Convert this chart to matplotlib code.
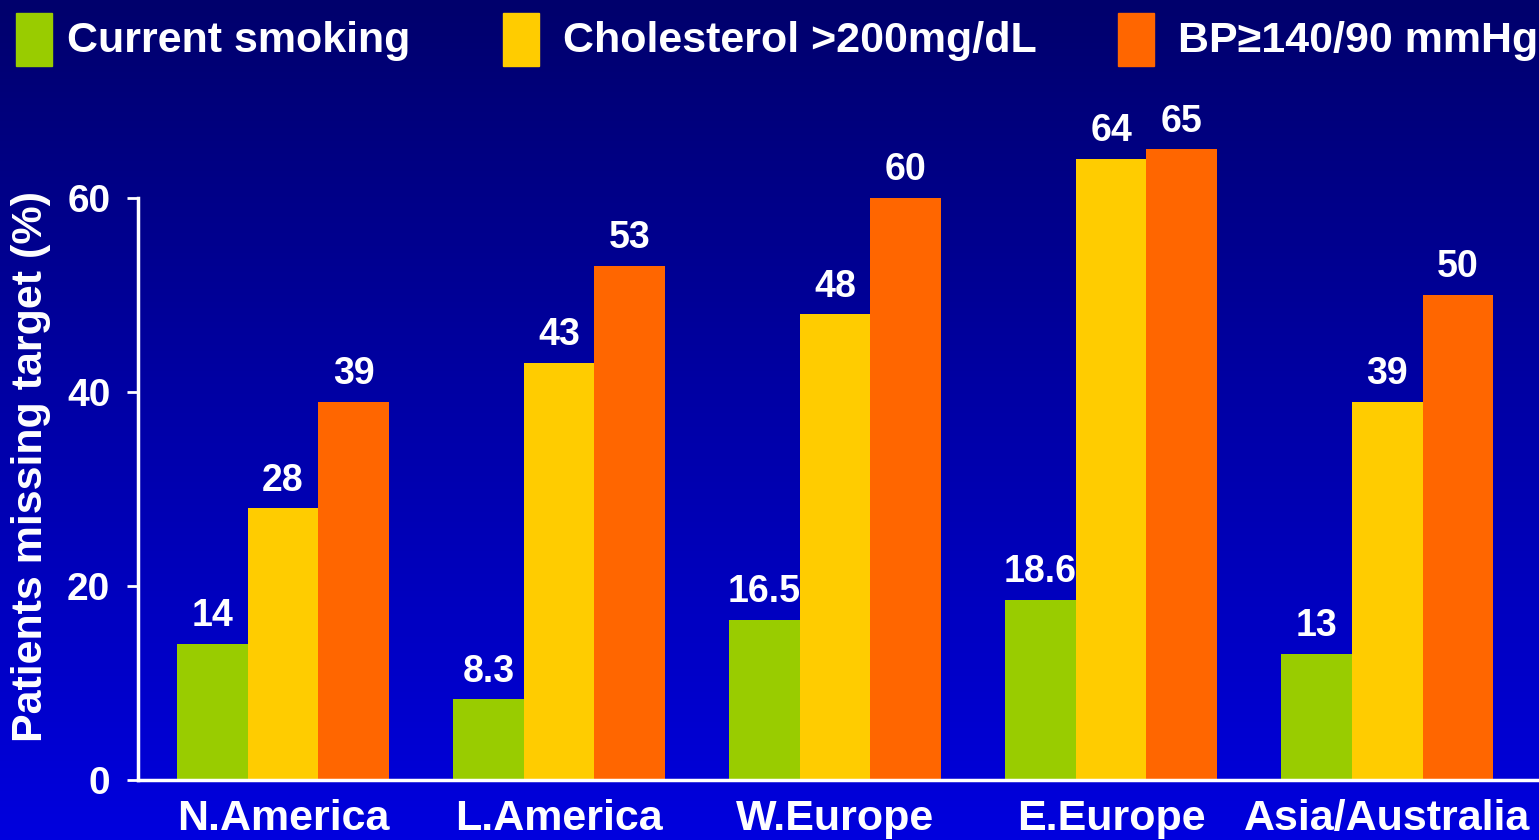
import numpy as np
import matplotlib
matplotlib.use("Agg")
import matplotlib.pyplot as plt
from matplotlib.colors import LinearSegmentedColormap
from matplotlib.patches import Rectangle

plt.rcParams["font.family"] = ["Liberation Sans", "DejaVu Sans"]
plt.rcParams["font.weight"] = "bold"

regions = ["N.America", "L.America", "W.Europe", "E.Europe", "Asia/Australia"]
series = ["Current smoking", "Cholesterol >200mg/dL", "BP\u2265140/90 mmHg"]
smoking = [14, 8.3, 16.5, 18.6, 13]
cholesterol = [28, 43, 48, 64, 39]
bp = [39, 53, 60, 65, 50]
labels = [["14", "8.3", "16.5", "18.6", "13"],
          ["28", "43", "48", "64", "39"],
          ["39", "53", "60", "65", "50"]]
colors = ["#99CC00", "#FFCC00", "#FF6600"]

fig = plt.figure(figsize=(15.39, 8.4), dpi=100)

# navy-to-blue backdrop over the whole figure
bg = fig.add_axes([0, 0, 1, 1], zorder=0)
grad = LinearSegmentedColormap.from_list("bg", ["#00006C", "#0000A8", "#0000DE"])
bg.imshow(np.linspace(0, 1, 256).reshape(-1, 1), aspect="auto", cmap=grad,
          extent=[0, 1, 0, 1], origin="upper")
bg.axis("off")

ax = fig.add_axes([0.0897, 0.0714, 0.9103, 0.8086], zorder=1)
ax.patch.set_alpha(0)

x = np.arange(len(regions))
w = 0.256
for i, (vals, col) in enumerate(zip([smoking, cholesterol, bp], colors)):
    bars = ax.bar(x + (i - 1) * w, vals, w, color=col, linewidth=0)
    for b, txt in zip(bars, labels[i]):
        ax.annotate(txt, (b.get_x() + b.get_width() / 2, b.get_height()),
                    xytext=(0, 7), textcoords="offset points",
                    ha="center", va="bottom", color="white",
                    fontsize=27, fontweight="bold")

ax.set_xlim(-0.525, 4.55)
ax.set_ylim(0, 70)
ax.set_yticks([0, 20, 40, 60])
ax.set_xticks(x)
ax.set_xticklabels(regions)
ax.tick_params(axis="x", length=0, pad=14, labelsize=31, colors="white")
ax.tick_params(axis="y", length=8, width=2, pad=12, labelsize=28,
               colors="white", direction="out")
for s in ["top", "right"]:
    ax.spines[s].set_visible(False)
for s in ["left", "bottom"]:
    ax.spines[s].set_color("white")
    ax.spines[s].set_linewidth(2.5)
ax.spines["left"].set_bounds(0, 60)
ax.set_ylabel("Patients missing target (%)", color="white", fontsize=31,
              fontweight="bold")
ax.yaxis.set_label_coords(-0.062, 0.462)

# legend row across the top
sq_x = [16, 503, 1118]
tx_x = [67, 563, 1178]
W, H = 1539, 840
for sx, tx, name, col in zip(sq_x, tx_x, series, colors):
    fig.add_artist(Rectangle((sx / W, 1 - 66 / H), 36 / W, 53 / H,
                             transform=fig.transFigure, color=col, zorder=2))
    fig.text(tx / W, 1 - 41 / H, name, color="white", fontsize=31,
             fontweight="bold", va="center", ha="left", zorder=2)

fig.savefig("out.png", dpi=100)
